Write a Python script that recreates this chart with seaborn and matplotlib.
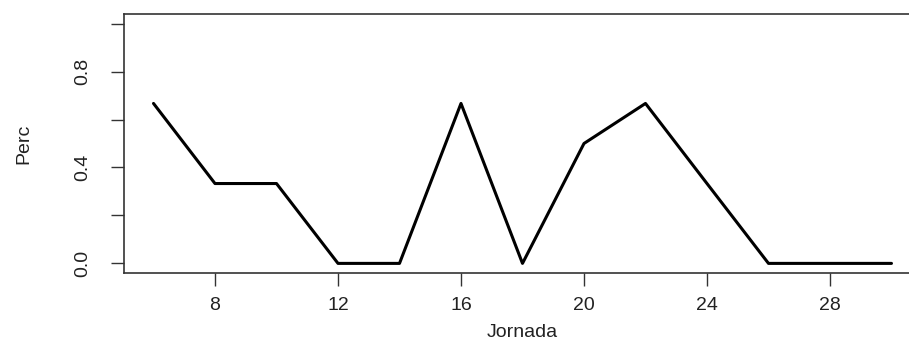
import matplotlib
matplotlib.use("Agg")
import matplotlib.pyplot as plt
import seaborn as sns
import pandas as pd

# Data
jornada = [6, 8, 10, 12, 14, 16, 18, 20, 22, 24, 26, 28, 30]
perc = [0.667, 0.333, 0.333, 0.0, 0.0, 0.667, 0.0, 0.5, 0.667, 0.333, 0.0, 0.0, 0.0]
xticks = [8, 12, 16, 20, 24, 28]
yticks = [0.0, 0.2, 0.4, 0.6, 0.8, 1.0]
ytick_labels = ["0.0", "", "0.4", "", "0.8", ""]

df = pd.DataFrame({"Jornada": jornada, "Perc": perc})

sns.set_style("white")
plt.rcParams["font.family"] = ["Liberation Sans", "DejaVu Sans"]

fig = plt.figure(figsize=(9.09, 3.42), dpi=100)
ax = fig.add_axes([0.1364, 0.2018, 0.8768, 0.7573])

sns.lineplot(data=df, x="Jornada", y="Perc", color="black", linewidth=2.2, ax=ax)

ax.set_xlim(5.04, 30.96)
ax.set_ylim(-0.04, 1.04)
ax.set_xticks(xticks)
ax.set_xticklabels([str(t) for t in xticks])
ax.set_yticks(yticks)
ax.set_yticklabels(ytick_labels, rotation=90, va="center")

for s in ax.spines.values():
    s.set_color("#333333")
    s.set_linewidth(1.2)

ax.tick_params(axis="both", direction="out", length=9.5, width=1.0, color="#333333",
               labelsize=14, labelcolor="#222222", bottom=True, left=True)
ax.tick_params(axis="x", pad=8)
ax.tick_params(axis="y", pad=14)
ax.set_xlabel("Jornada", fontsize=14, color="#222222", labelpad=7)
ax.set_ylabel("Perc", fontsize=14, color="#222222", labelpad=30)

fig.savefig("out.png", dpi=100)
